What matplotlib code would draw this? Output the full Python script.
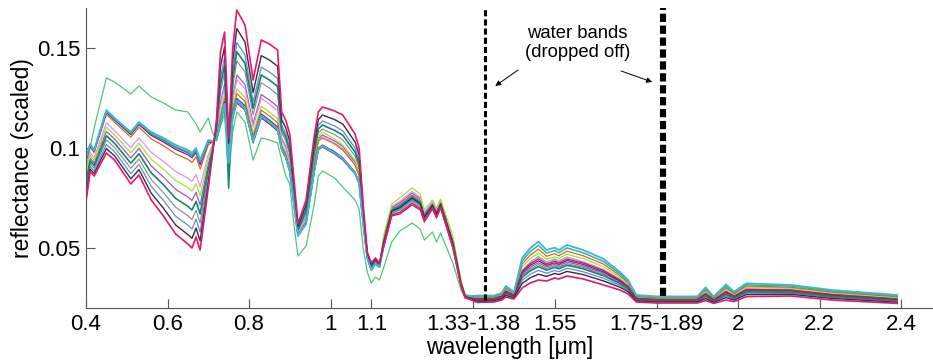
import matplotlib
matplotlib.use("Agg")
import matplotlib.pyplot as plt

plt.rcParams['font.family'] = ['Liberation Sans', 'DejaVu Sans']

# band index (water bands already removed, 200 bands left)
band = [0, 1, 2, 5, 7, 11, 13, 16, 19, 22, 25, 26, 27, 28, 30, 31,
        32, 33, 34, 35, 36, 37, 39, 41, 43, 45, 47, 48, 49, 50, 51, 52, 54, 56, 57,
        58, 61, 63, 66, 67, 68, 69, 70, 71, 72,
        73, 75, 77, 80, 82, 83, 85, 86, 87, 90, 92, 93,
        96, 100, 102, 103, 105, 107, 109, 111, 113, 115, 116, 118, 122, 127, 131, 133,
        135, 140, 150, 152, 154, 157, 159, 162, 173, 183, 199]

tick_pos = [0, 20, 40, 60, 70, 95, 115, 140, 160, 180, 200]
tick_labels = ['0.4', '0.6', '0.8', '1', '1.1', '1.33-1.38', '1.55', '1.75-1.89',
               '2', '2.2', '2.4']
ytick_pos = [0.05, 0.1, 0.15]
ytick_labels = ['0.05', '0.1', '0.15']

# reflectance spectra
green = [.088, .100, .110, .135, .133, .127, .131, .1255, .1225, .119, .118, .115, .112, .108, .115, .108,
         .1035, .111, .117, .085, .108, .118, .113, .094, .105, .104, .1025, .094, .086, .082, .062, .046, .051, .072, .086,
         .0885, .085, .0805, .074, .0695, .050, .038, .0325, .0355, .034,
         .040, .053, .0585, .0625, .0595, .054, .058, .053, .0575, .0425, .029, .0255,
         .026, .026, .027, .029, .027, .038, .043, .0457, .043, .0445, .0435, .0455, .043, .039, .034, .031,
         .025, .0256, .0256, .029, .025, .030, .027, .0305, .030, .028, .0255]

gray = [.0796, .0922, .0899, .1040, .1003, .0898, .0945, .0842, .0777, .0704, .0661, .0643, .0689, .0625, .0872, .0983,
        .1085, .1282, .1377, .0979, .1308, .1434, .1381, .1167, .1326, .130, .1267, .1076, .1036, .0966, .0779, .0587, .0674, .0961, .1076,
        .1095, .1067, .1041, .096, .0901, .0665, .0464, .0406, .0434, .0414,
        .0536, .0696, .0718, .0766, .0738, .0666, .0722, .068, .0727, .0536, .0328, .0262,
        .0242, .0243, .0254, .0277, .0259, .036, .0395, .0417, .0397, .0411, .0403, .0422, .0403, .0367, .0326, .0298,
        .0244, .0238, .0238, .0263, .0237, .0271, .0252, .0283, .0282, .026, .024]

steel = [.0774, .0908, .0886, .1018, .0982, .0872, .0918, .0808, .0738, .0659, .0614, .0595, .0644, .0580, .0848, .0975,
         .1105, .1354, .1451, .1005, .1378, .1527, .1466, .1230, .1404, .138, .1348, .1114, .1074, .1004, .0805, .0599, .0698, .0997, .1114,
         .1135, .111, .1086, .100, .0937, .0685, .0470, .0413, .0440, .0418,
         .0533, .0693, .0714, .0762, .0734, .0663, .072, .0678, .0725, .0533, .0327, .0261,
         .0237, .0238, .0249, .0269, .0254, .0338, .0369, .0388, .0374, .0388, .0381, .0399, .0381, .0348, .0313, .0288,
         .0239, .0233, .0233, .0254, .0232, .026, .0245, .0274, .0274, .0253, .0234]

purple = [.0840, .0950, .0925, .1083, .1045, .0950, .0998, .0910, .0855, .0793, .0755, .0738, .0778, .0715, .0920, .0998,
          .107, .1228, .1321, .0959, .1255, .1365, .1318, .1120, .1267, .124, .1207, .1047, .1007, .0937, .0759, .0578, .0656, .0934, .1047,
          .1065, .1035, .1008, .093, .0874, .065, .0459, .0401, .0429, .0411,
          .0542, .0702, .0726, .0775, .0746, .0672, .0727, .0685, .0732, .0542, .0331, .0264,
          .0243, .0244, .0256, .028, .0261, .0368, .0404, .0426, .0405, .0418, .041, .043, .041, .0374, .0331, .0302,
          .0246, .024, .024, .0267, .0238, .0275, .0255, .0287, .0285, .0263, .0242]

lilac = [.0884, .0978, .0951, .1126, .1087, .1002, .1051, .0978, .0933, .0882, .0849, .0833, .0867, .0805, .0968, .1013,
         .1065, .121, .1303, .0953, .1238, .1341, .1296, .1104, .1248, .122, .1186, .1038, .0998, .0928, .0753, .0575, .065, .0925, .1038,
         .1055, .1024, .0996, .092, .0865, .0645, .0458, .0399, .0428, .041,
         .0548, .0708, .0734, .0783, .0754, .0678, .0731, .069, .0736, .0548, .0334, .0266,
         .0248, .0249, .0261, .0288, .0266, .039, .043, .0455, .0428, .0441, .0432, .0453, .0432, .0393, .0344, .0312,
         .0251, .0245, .0245, .0277, .0243, .0287, .0262, .0297, .0293, .027, .0248]

lime = [.0862, .0964, .0938, .1104, .1066, .0976, .1024, .0944, .0894, .0837, .0802, .0785, .0822, .0760, .0944, .1005,
        .1055, .1174, .1266, .094, .1203, .1295, .1254, .1072, .1209, .118, .1146, .1019, .0979, .0909, .074, .0569, .0638, .0935, .1055,
        .108, .1045, .1015, .094, .088, .0635, .0455, .0395, .0425, .0408,
        .056, .072, .075, .080, .077, .069, .074, .070, .0745, .056, .034, .027,
        .0252, .0252, .0265, .0294, .027, .0405, .0448, .0474, .0444, .0456, .0447, .0469, .0447, .0406, .0353, .0319,
        .0255, .0248, .0248, .0283, .0247, .0295, .0267, .0303, .0299, .0275, .0252]

orange = [.0928, .1006, .0977, .1169, .1129, .1054, .1104, .1046, .1011, .0971, .0943, .0928, .0956, .0895, .1016, .1028,
          .105, .1156, .1247, .0933, .1185, .1272, .1233, .1057, .1189, .116, .1126, .1009, .0969, .0899, .0733, .0566, .0632, .0915, .1035,
          .105, .102, .099, .0915, .086, .063, .0453, .0394, .0423, .0407,
          .053, .069, .071, .0758, .073, .066, .0718, .0675, .0723, .053, .0325, .026,
          .0255, .0256, .0268, .0299, .0273, .042, .0465, .0494, .0459, .0472, .0461, .0484, .0461, .0419, .0362, .0326,
          .0258, .0251, .0251, .029, .025, .0302, .0272, .031, .0304, .028, .0257]

dkgreen = [.0818, .0936, .0912, .1061, .1024, .0924, .0971, .0876, .0816, .0748, .0708, .0690, .0733, .0670, .0896, .0990,
           .1095, .1318, .1414, .080, .1343, .1481, .1424, .1198, .1365, .134, .1308, .1095, .1055, .0985, .0792, .0593, .0686, .0979, .1095,
           .1115, .1088, .1064, .098, .0919, .0675, .0467, .0409, .0437, .0416,
           .0527, .0687, .0706, .0753, .0726, .0657, .0715, .0673, .072, .0527, .0324, .0259,
           .024, .0241, .0252, .0274, .0257, .0353, .0386, .0407, .0389, .0403, .0396, .0414, .0396, .0361, .0322, .0295,
           .0242, .0237, .0237, .026, .0235, .0267, .025, .028, .0279, .0258, .0238]

indigo = [.0939, .1013, .0984, .1179, .1140, .1067, .1117, .1063, .1030, .0993, .0966, .0951, .0978, .0917, .1028, .1031,
          .1045, .1138, .1229, .0927, .1168, .1248, .1211, .1041, .117, .114, .1105, .10, .096, .089, .0727, .0563, .0626, .0889, .10,
          .1015, .0981, .0951, .088, .0829, .0625, .0452, .0392, .0422, .0406,
          .0518, .0678, .0694, .0741, .0714, .0648, .0709, .0665, .0714, .0518, .0319, .0256,
          .0245, .0246, .0258, .0283, .0263, .0375, .0413, .0436, .0413, .0426, .0418, .0438, .0418, .038, .0335, .0305,
          .0248, .0242, .0242, .027, .024, .0279, .0257, .029, .0288, .0265, .0244]

crimson = [.0943, .1016, .0986, .1184, .1144, .1072, .1122, .1070, .1038, .1002, .0976, .0961, .0987, .0927, .1033, .1033,
           .104, .112, .121, .092, .115, .1225, .119, .1025, .115, .112, .1085, .099, .095, .088, .072, .056, .062, .088, .099,
           .1005, .097, .094, .087, .082, .062, .045, .039, .042, .0405,
           .050, .066, .067, .0715, .069, .063, .0695, .065, .070, .050, .031, .025,
           .0247, .0248, .0259, .0285, .0264, .0383, .0421, .0446, .042, .0434, .0425, .0445, .0425, .0387, .034, .0309,
           .0249, .0243, .0243, .0273, .0242, .0283, .026, .0293, .029, .0268, .0246]

teal = [.0946, .1017, .0987, .1186, .1146, .1075, .1125, .1073, .1042, .1006, .0981, .0965, .0991, .0931, .1035, .1033,
        .1042, .1127, .1217, .0923, .1157, .1234, .1199, .1031, .1158, .1128, .1093, .0994, .0954, .0884, .0723, .0561, .0622, .0884, .0994,
        .1009, .0974, .0945, .0874, .0824, .0622, .0451, .0391, .0421, .0405,
        .0515, .0675, .069, .0736, .071, .0645, .0706, .0663, .0711, .0515, .0318, .0255,
        .0259, .0259, .0272, .0305, .0277, .0435, .0483, .0513, .0475, .0487, .0476, .05, .0476, .0432, .0371, .0333,
        .0262, .0255, .0255, .0296, .0254, .031, .0277, .0316, .031, .0285, .0261]

cyan = [.095, .102, .099, .119, .115, .108, .113, .108, .105, .1015, .099, .0975, .100, .094, .104, .1035,
        .1043, .1131, .1221, .0924, .116, .1239, .1203, .1034, .1162, .1132, .1097, .0996, .0956, .0886, .0724, .0562, .0624, .0885, .0996,
        .1011, .0976, .0947, .0876, .0825, .0623, .0451, .0391, .0421, .0406,
        .0521, .0681, .0698, .0745, .0718, .0651, .0711, .0668, .0716, .0521, .032, .0257,
        .0262, .0262, .0275, .031, .028, .045, .050, .0532, .049, .0502, .049, .0515, .049, .0445, .038, .034,
        .0265, .0258, .0258, .0303, .0257, .0318, .0282, .0323, .0315, .029, .0265]

dark = [.0752, .0894, .0873, .0997, .0961, .0846, .0892, .0774, .0699, .0615, .0567, .0548, .0600, .0535, .0824, .0968,
        .112, .1408, .1506, .1024, .143, .1597, .153, .1277, .1462, .144, .1409, .1142, .1102, .1032, .0824, .0608, .0716, .1024, .1142,
        .1165, .1142, .112, .103, .0964, .070, .0474, .0418, .0444, .0421,
        .0524, .0684, .0702, .0749, .0722, .0654, .0713, .067, .0718, .0524, .0322, .0258,
        .0233, .0235, .0245, .0263, .025, .0323, .0351, .0369, .0358, .0373, .0367, .0383, .0367, .0335, .0304, .0281,
        .0235, .023, .023, .0247, .0228, .0252, .024, .0267, .0268, .0248, .0229]

pink = [.073, .088, .086, .0975, .094, .082, .0865, .074, .066, .057, .052, .050, .0555, .049, .080, .096,
        .114, .148, .158, .105, .150, .169, .1615, .134, .154, .152, .149, .118, .114, .107, .085, .062, .074, .106, .118,
        .1205, .1185, .1165, .107, .100, .072, .048, .0425, .045, .0425,
        .0506, .0666, .0678, .0724, .0698, .0636, .0700, .0655, .0705, .0506, .0313, .0252,
        .0228, .023, .024, .0255, .0245, .030, .0325, .034, .0335, .035, .0345, .036, .0345, .0315, .029, .027,
        .023, .0225, .0225, .0237, .0223, .024, .0232, .0257, .026, .024, .0223]

spectra = [
    (green, '#4fc878', 0.9),
    (gray, '#7d8c88', 0.8),
    (steel, '#6a86d2', 0.9),
    (purple, '#a652bf', 0.9),
    (lilac, '#e68ff2', 0.9),
    (lime, '#9ee534', 0.9),
    (orange, '#d46a1e', 0.9),
    (dkgreen, '#11876a', 1.2),
    (indigo, '#4e2c9e', 0.9),
    (crimson, '#c51f3c', 0.9),
    (teal, '#2fb4a6', 1.1),
    (cyan, '#3db5de', 1.3),
    (dark, '#3c2b42', 1.0),
    (pink, '#e8166f', 1.2),
]

fig = plt.figure(figsize=(9.33, 3.6), dpi=100)
ax = fig.add_axes([86 / 933, 52 / 360, 847 / 933, 300 / 360])

for vals, col, lw in spectra:
    ax.plot(band, vals, color=col, lw=lw)

# dropped water bands
ax.plot([98, 98], [0.024, 0.17], color='k', lw=2.2, ls=(0, (2, 1)))
ax.plot([141.5, 141.5], [0.026, 0.17], color='k', lw=4.4, ls=(0, (1.35, 0.6)))

ax.text(120.5, 0.1575, 'water bands', ha='center', va='center', fontsize=13.3)
ax.text(120.7, 0.148, '(dropped off)', ha='center', va='center', fontsize=13.3)
arrow = dict(arrowstyle='-|>', color='k', lw=0.7, mutation_scale=8, shrinkA=0, shrinkB=0)
ax.annotate('', xy=(100.4, 0.131), xytext=(106.0, 0.139), arrowprops=arrow)
ax.annotate('', xy=(138.9, 0.133), xytext=(131.3, 0.1385), arrowprops=arrow)

ax.set_xlim(0, 207.8)
ax.set_ylim(0.02, 0.17)
ax.set_xticks(tick_pos)
ax.set_xticklabels(tick_labels)
ax.set_yticks(ytick_pos)
ax.set_yticklabels(ytick_labels)

for side in ['top', 'right']:
    ax.spines[side].set_visible(False)
for side in ['left', 'bottom']:
    ax.spines[side].set_color('#555555')
    ax.spines[side].set_linewidth(0.8)

ax.tick_params(direction='in', length=6.5, width=0.8, color='#555555',
               labelsize=16, pad=4)
ax.set_xlabel('wavelength [\u03bcm]', fontsize=16.5, labelpad=1)
ax.set_ylabel('reflectance (scaled)', fontsize=16.5, labelpad=2)

fig.savefig('out.png', dpi=100)
